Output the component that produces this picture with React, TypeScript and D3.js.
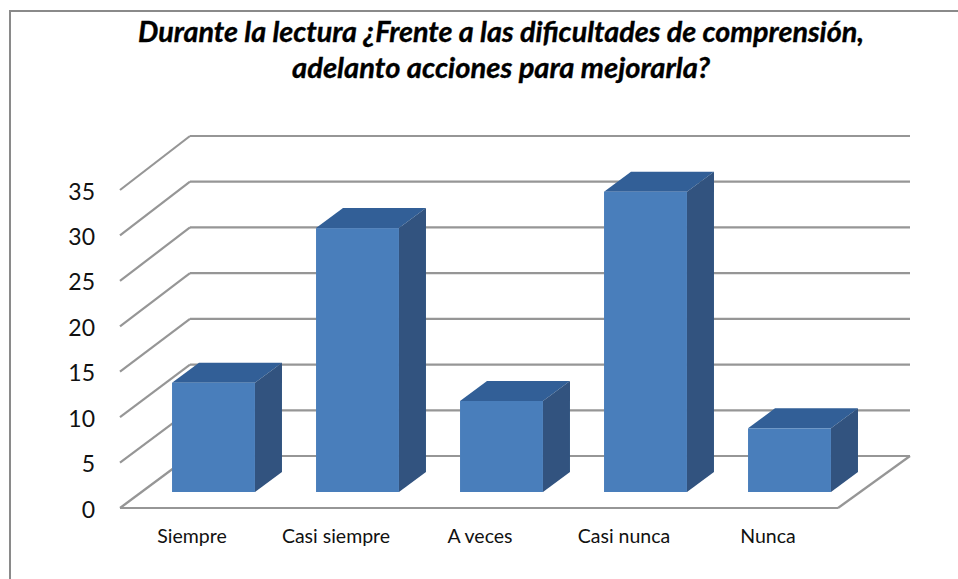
import React from "react";
import * as d3 from "d3";

const categories = ["Siempre", "Casi siempre", "A veces", "Casi nunca", "Nunca"];
const values = [12, 29, 10, 33, 7];
const yTicks = [0, 5, 10, 15, 20, 25, 30, 35];
const titleLines = [
  "Durante la lectura ¿Frente a las dificultades de comprensión,",
  "adelanto acciones para mejorarla?",
];

const W = 958, H = 579;
const x = d3.scaleBand<string>().domain(categories).range([120, 840]).paddingInner(0.424).paddingOuter(0.212);
const yFront = d3.scaleLinear().domain([0, 35]).range([508, 190]);
const yBack = d3.scaleLinear().domain([0, 35]).range([456, 136]);
const yBar = d3.scaleLinear().domain([0, 35]).range([492, 173.5]);
const backLeft = 190, backRight = 910, frontLeft = 120, frontRight = 838;
const barShift = 21.5, depthX = 27, depthY = 20;
const poly = (p: [number, number][]) => d3.line()(p) + "Z";
const GRID = "#969696";

export default function App() {
  const bw = x.bandwidth();
  return (
    <svg width={W} height={H} style={{ position: "absolute", left: 0, top: 0, background: "#fff" }}>
      <defs>
        <filter id="soft" x="-5%" y="-5%" width="110%" height="110%">
          <feGaussianBlur stdDeviation="0.5" />
        </filter>
      </defs>
      <path d={`M10,${H}V11H${W}`} fill="none" stroke="#8a8a8a" strokeWidth={2} />
      {titleLines.map((t, i) => (
        <text key={i} x={501} y={[42, 78][i]} textAnchor="middle" textLength={[726, 418][i]} lengthAdjust="spacingAndGlyphs"
          fontFamily="Lato, sans-serif" fontWeight={700} fontStyle="italic" fontSize={28} stroke="#000" strokeWidth={0.35} fill="#000">{t}</text>
      ))}
      <g filter="url(#soft)" fill="none" stroke={GRID} strokeWidth={2.2}>
        {yTicks.map((v) => (
          <g key={v}>
            <line x1={backLeft} x2={backRight} y1={yBack(v)} y2={yBack(v)} />
            <line x1={frontLeft} x2={backLeft} y1={yFront(v)} y2={yBack(v)} />
          </g>
        ))}
        <line x1={frontLeft} x2={frontRight} y1={yFront(0)} y2={yFront(0)} />
        <line x1={frontRight} x2={backRight} y1={yFront(0)} y2={yBack(0)} />
      </g>
      <g filter="url(#soft)">
        {values.map((v, i) => {
          const l = x(categories[i])! + barShift, r = l + bw, t = yBar(v), b = yBar(0);
          return (
            <g key={categories[i]}>
              <path d={poly([[l, t], [r, t], [r + depthX, t - depthY], [l + depthX, t - depthY]])} fill="#305f97" />
              <path d={poly([[r, t], [r + depthX, t - depthY], [r + depthX, b - depthY], [r, b]])} fill="#30527f" />
              <rect x={l} y={t} width={bw} height={b - t} fill="#4a7ebb" />
            </g>
          );
        })}
      </g>
      {yTicks.map((v) => (
        <text key={v} x={95} y={yFront(v) + 9.5} textAnchor="end" fontFamily="Lato, sans-serif" fontSize={23} fill="#111">{v}</text>
      ))}
      {categories.map((c) => (
        <text key={c} x={x(c)! + bw / 2} y={543} textAnchor="middle" fontFamily="Lato, sans-serif" fontSize={19.5} fill="#111">{c}</text>
      ))}
    </svg>
  );
}
